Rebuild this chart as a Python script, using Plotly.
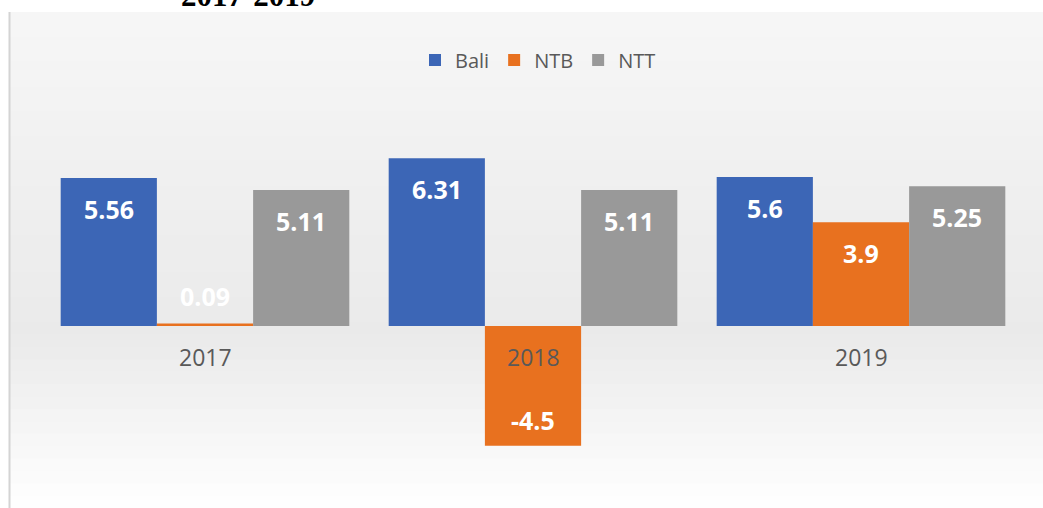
import plotly.graph_objects as go

years = ["2017", "2018", "2019"]
series_names = ["Bali", "NTB", "NTT"]
bali = [5.56, 6.31, 5.6]
ntb = [0.09, -4.5, 3.9]
ntt = [5.11, 5.11, 5.25]
title_text = "2017-2019"

colors = {"Bali": "#3c66b6", "NTB": "#e8711f", "NTT": "#999999"}
values = {"Bali": bali, "NTB": ntb, "NTT": ntt}

W, H = 1043, 508
L, R, T, B = 41, 18, 100, 18
PW, PH = W - L - R, H - T - B
YR = [-6.165, 8.496]

def px_to_paper_x(px):
    return (px - L) / PW

def px_to_paper_y(py):
    return (H - B - py) / PH

fig = go.Figure()
for name in series_names:
    fig.add_trace(go.Bar(
        name=name, x=years, y=values[name],
        marker=dict(color=colors[name], line=dict(width=0)),
    ))

# background gradient (style only)
shapes = []
top_px, bot_px = 12, H
n = 40
def lerp(a, b, t):
    return int(round(a + (b - a) * t))
for i in range(n):
    y0 = top_px + (bot_px - top_px) * i / n
    y1 = top_px + (bot_px - top_px) * (i + 1) / n + 1
    t = i / (n - 1)
    if t < 0.65:
        c = lerp(0xf6, 0xea, t / 0.65)
    else:
        c = lerp(0xea, 0xfe, (t - 0.65) / 0.35)
    col = "#%02x%02x%02x" % (c, c, c)
    shapes.append(dict(type="rect", xref="paper", yref="paper", layer="below",
                       x0=px_to_paper_x(10), x1=px_to_paper_x(W + 2),
                       y0=px_to_paper_y(y1), y1=px_to_paper_y(y0),
                       fillcolor=col, line=dict(width=0)))
shapes.append(dict(type="line", xref="paper", yref="paper", layer="above",
                   x0=px_to_paper_x(9.5), x1=px_to_paper_x(9.5),
                   y0=px_to_paper_y(12), y1=px_to_paper_y(H + 2),
                   line=dict(color="#d4d4d4", width=2)))

annotations = []
offsets = {"Bali": -96, "NTB": 0, "NTT": 96}
for name in series_names:
    for i, v in enumerate(values[name]):
        if v >= 1:
            ys = -31
        elif v >= 0:
            ys = 28
        else:
            ys = 26
        annotations.append(dict(x=i, y=v, xref="x", yref="y", text="<b>%g</b>" % v,
                                showarrow=False, xshift=offsets[name], yshift=ys,
                                font=dict(family="Open Sans", size=25, color="white")))
for i, yr in enumerate(years):
    annotations.append(dict(x=i, y=0, xref="x", yref="y", text=yr, showarrow=False,
                            yshift=-31, font=dict(family="Open Sans", size=23, color="#595959")))

annotations.append(dict(x=px_to_paper_x(248), y=px_to_paper_y(15), xref="paper", yref="paper",
                        text="<b>" + title_text + "</b>", showarrow=False,
                        xanchor="center", yanchor="bottom",
                        font=dict(family="Liberation Serif", size=31, color="black")))

fig.update_layout(
    width=W, height=H,
    margin=dict(l=L, r=R, t=T, b=B),
    paper_bgcolor="white", plot_bgcolor="rgba(0,0,0,0)",
    barmode="group", bargap=0.12, bargroupgap=0,
    showlegend=True,
    legend=dict(orientation="h", x=px_to_paper_x(538), xanchor="center",
                y=px_to_paper_y(60), yanchor="middle",
                font=dict(family="Open Sans", size=20, color="#595959"),
                bgcolor="rgba(0,0,0,0)", itemwidth=30),
    xaxis=dict(type="category", showticklabels=False, showgrid=False, zeroline=False,
               showline=False, range=[-0.5, 2.5]),
    yaxis=dict(range=YR, showgrid=False, zeroline=False, showticklabels=False, showline=False),
    shapes=shapes, annotations=annotations,
)
fig.write_html("out.html")
